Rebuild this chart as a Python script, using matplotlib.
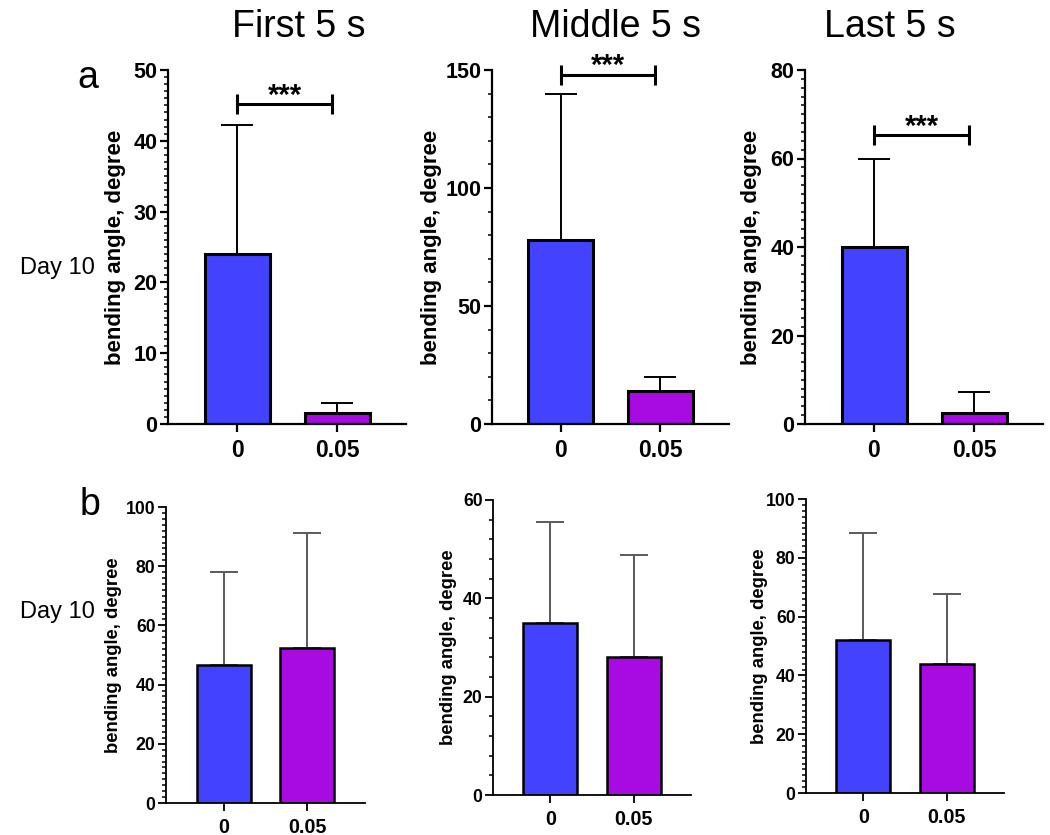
import numpy as np
import matplotlib
matplotlib.use("Agg")
import matplotlib.pyplot as plt
from matplotlib.ticker import MultipleLocator

plt.rcParams["font.family"] = ["Liberation Sans", "DejaVu Sans"]

""" data read off the figure """

groups = ["0", "0.05"]
titles = ["First 5 s", "Middle 5 s", "Last 5 s"]

# row a (mean, upper SD)
a_means = [[24.0, 1.6], [78.0, 14.0], [40.0, 2.4]]
a_sd = [[18.2, 1.3], [62.0, 6.0], [20.0, 4.9]]
a_ymax = [50, 150, 80]
a_major = [10, 50, 20]
a_minor = [1, 10, 2]
a_sig_y = [45.2, 148.0, 65.2]

# row b
b_means = [[46.5, 52.5], [35.0, 28.0], [52.0, 44.0]]
b_sd = [[31.5, 38.8], [20.5, 20.8], [36.6, 23.7]]
b_ymax = [100, 60, 100]
b_major = [20, 20, 20]
b_minor = [2, 4, 2]

colors = ["#4242FF", "#A80AE2"]

""" layout (pixels -> figure fractions) """
W, H = 1050, 835
top_pos = [[168, 70, 238, 354], [492, 70, 237, 354], [805, 70, 238, 354]]
bot_pos = [[166, 507, 199, 296], [493, 500, 198, 295], [806, 499, 198, 294]]
top_lab = [-0.175, -0.21, -0.18]
bot_lab = [-0.22, -0.18, -0.19]
title_x = [299, 615, 890]


def px_axes(fig, p):
    x, y, w, h = p
    return fig.add_axes([x / W, 1 - (y + h) / H, w / W, h / H])


def bar_panel(ax, means, sd, ymax, major, minor, top_row):
    x = np.arange(len(groups))
    lw = 2.2 if top_row else 1.8
    ecol = "black" if top_row else "#5a5a5a"
    cap = 11.5 if top_row else 9.8
    ax.bar(x, means, width=0.65, color=colors, edgecolor="black", linewidth=lw, zorder=2,
           yerr=[np.zeros(len(sd)), sd],
           error_kw=dict(ecolor=ecol, elinewidth=1.4, capsize=cap, capthick=1.4, zorder=1))
    ax.set_xlim(-0.69, 1.69)
    ax.set_ylim(0, ymax)
    ax.set_xticks(x)
    ax.set_xticklabels(groups)
    ax.yaxis.set_major_locator(MultipleLocator(major))
    ax.yaxis.set_minor_locator(MultipleLocator(minor))
    for s in ["top", "right"]:
        ax.spines[s].set_visible(False)
    sw = 1.6 if top_row else 1.3
    for s in ["left", "bottom"]:
        ax.spines[s].set_linewidth(sw)
    fs_y = 15.5 if top_row else 12.7
    fs_x = 16.5 if top_row else 14.2
    ax.tick_params(axis="both", which="major", width=sw, length=5.5, direction="out", pad=2)
    ax.tick_params(axis="y", which="minor", width=1.1, length=3, direction="out")
    ax.tick_params(axis="y", labelsize=fs_y)
    ax.tick_params(axis="x", labelsize=fs_x, pad=5)
    for t in ax.get_xticklabels() + ax.get_yticklabels():
        t.set_fontweight("bold")
    ax.set_ylabel("bending angle, degree", fontsize=16 if top_row else 13.3, fontweight="bold")


fig = plt.figure(figsize=(W / 100, H / 100), dpi=100)

for i in range(3):
    ax = px_axes(fig, top_pos[i])
    bar_panel(ax, a_means[i], a_sd[i], a_ymax[i], a_major[i], a_minor[i], True)
    ax.yaxis.set_label_coords(top_lab[i], 0.5)
    # significance bracket
    y = a_sig_y[i]
    ax.plot([0, 0.95], [y, y], color="black", lw=2.2, clip_on=False, solid_capstyle="butt")
    ax.plot([0, 0.95], [y, y], color="black", lw=0, marker="|", ms=15, mew=2.2, clip_on=False)
    ax.annotate("***", xy=(0.475, y), xytext=(0, -4), textcoords="offset points",
                ha="center", va="bottom", fontsize=21, fontweight="bold", annotation_clip=False)

    fig.text(title_x[i] / W, 1 - 27 / H, titles[i], ha="center", va="center", fontsize=27)

for i in range(3):
    ax = px_axes(fig, bot_pos[i])
    bar_panel(ax, b_means[i], b_sd[i], b_ymax[i], b_major[i], b_minor[i], False)
    ax.yaxis.set_label_coords(bot_lab[i], 0.5)

fig.text(88 / W, 1 - 78 / H, "a", ha="center", va="center", fontsize=27)
fig.text(90 / W, 1 - 505 / H, "b", ha="center", va="center", fontsize=27)
fig.text(20 / W, 1 - 268 / H, "Day 10", ha="left", va="center", fontsize=17)
fig.text(20 / W, 1 - 612 / H, "Day 10", ha="left", va="center", fontsize=17)

fig.savefig("out.png", dpi=100)
